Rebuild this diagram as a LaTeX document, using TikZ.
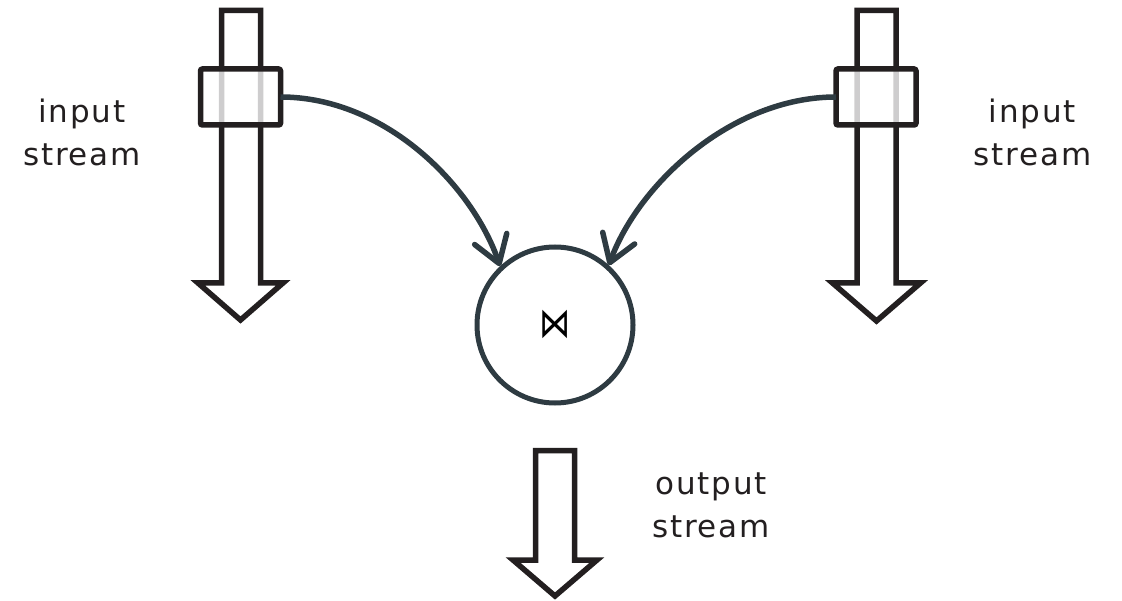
\documentclass[tikz,border=0pt]{standalone}
\usepackage{fontspec}
\usepackage{graphicx}
\setmainfont{DejaVu Sans}[LetterSpace=6]
\newfontfamily\symfont{DejaVu Sans}
\usetikzlibrary{arrows.meta}
\definecolor{ink}{HTML}{231F20}
\definecolor{slate}{HTML}{2E3B42}
\definecolor{txt}{HTML}{231F20}
\begin{document}
\begin{tikzpicture}[x=1pt,y=-1pt,
  streamarrow/.style={draw=ink, line width=5.5pt, line join=miter, fill=white},
  tap/.style={draw=ink, line width=5.5pt, fill=white, fill opacity=0.78, rounded corners=2pt,
    minimum width=80pt, minimum height=56pt, inner sep=0pt, outer sep=0pt},
  flow/.style={draw=slate, line width=5.5pt, -{Straight Barb[length=26pt,width=34pt,round]}},
  op/.style={circle, draw=slate, line width=5pt, minimum size=156pt, inner sep=0pt, outer sep=2.5pt},
  lbl/.style={font=\fontsize{31}{43}\selectfont, text=txt, align=center, inner sep=0pt}]
\useasboundingbox (0,0) rectangle (1122,601);

% stream arrows
\draw[streamarrow] (221.5,10.5) -- (221.5,283) -- (198,283) -- (240.5,320) -- (283,283) -- (260.5,283) -- (260.5,10.5) -- cycle;
\draw[streamarrow] (857,10.5) -- (857,283) -- (832.5,283) -- (876.5,321) -- (920.5,283) -- (896,283) -- (896,10.5) -- cycle;
\draw[streamarrow] (535.5,450.5) -- (535.5,560) -- (513,560) -- (555,596) -- (597,560) -- (574.5,560) -- (574.5,450.5) -- cycle;

% taps
\node[tap] (tapL) at (240.5,97) {};
\node[tap] (tapR) at (876,97) {};

% operator
\node[op] (op) at (555,325) {\raisebox{3pt}{\scalebox{1.2}[1.6]{\symfont\fontsize{26}{26}\selectfont ⋈}}};

% connectors
\draw[flow] (tapL.east) .. controls (385,97) and (472,185) .. (op.133);
\draw[flow] (tapR.west) .. controls (731,97) and (638,185) .. (op.48);

% labels
\node[lbl] (inL) at (82,132.7) {input\\stream};
\node[lbl] (inR) at (1032.5,132.7) {input\\stream};
\node[lbl] (out) at (711,505) {output\\stream};
\end{tikzpicture}
\end{document}
